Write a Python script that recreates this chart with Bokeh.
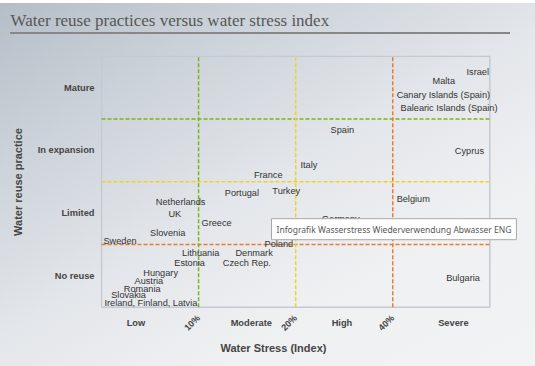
import math
from bokeh.plotting import figure
from bokeh.models import (Range1d, Label, ColumnDataSource, LinearAxis, Title,
                          FixedTicker, GlobalInlineStyleSheet)
from bokeh.core.properties import value
from bokeh.embed import file_html
from bokeh.resources import INLINE

# ---- data ----
countries = ["Israel", "Malta", "Canary Islands (Spain)", "Balearic Islands (Spain)",
             "Spain", "Cyprus", "Italy", "France", "Portugal", "Turkey", "Netherlands",
             "Belgium", "UK", "Greece", "Germany", "Slovenia", "Sweden", "Poland",
             "Lithuania", "Denmark", "Estonia", "Czech Rep.", "Hungary", "Austria",
             "Romania", "Slovakia", "Ireland, Finland, Latvia", "Bulgaria"]
stress = [3.76, 3.41, 3.04, 3.08, 2.36, 3.64, 2.05, 1.57, 1.27, 1.76, 0.56,
          3.04, 0.69, 1.03, 2.27, 0.50, 0.02, 1.68, 0.83, 1.38, 0.75, 1.25,
          0.43, 0.34, 0.23, 0.10, 0.03, 3.55]
reuse = [3.75, 3.60, 3.38, 3.17, 2.83, 2.49, 2.27, 2.10, 1.82, 1.85, 1.67,
         1.72, 1.48, 1.34, 1.41, 1.18, 1.06, 1.01, 0.87, 0.87, 0.70, 0.70,
         0.55, 0.41, 0.29, 0.19, 0.06, 0.47]

stress_thresholds = [1, 2, 3]
stress_threshold_labels = ["10%", "20%", "40%"]
stress_class_pos = [0.355, 1.543, 2.477, 3.625]
stress_class_labels = ["Low", "Moderate", "High", "Severe"]
reuse_thresholds = [3, 2, 1]
reuse_class_pos = [0.5, 1.5, 2.5, 3.5]
reuse_class_labels = ["No reuse", "Limited", "In expansion", "Mature"]
threshold_colors = ["#7fb31a", "#f2d22a", "#ef7a2c"]
x_min, x_max = 0, 4
y_min, y_max = 0, 4

css = """
html { min-height: 100%;
  background:
    linear-gradient(#ffffff, #ffffff) no-repeat 0 0 / 100% 3px,
    linear-gradient(#878787, #878787) no-repeat 10px 32px / 500px 2px,
    linear-gradient(150deg, #b4bdc7 0%, #cdd3da 25%, #e3e6ea 50%, #eff0f2 72%, #f2f3f5 100%) fixed; }
body { background: transparent; }
"""

p = figure(width=535, height=366, output_backend="svg", toolbar_location=None,
           x_range=Range1d(-0.0103, 4.419), y_range=Range1d(-0.0207, 4.011),
           min_border_left=100, min_border_right=5, min_border_top=55, min_border_bottom=58)
p.stylesheets = [GlobalInlineStyleSheet(css=css)]
p.border_fill_color = None
p.background_fill_color = None
p.outline_line_color = None
p.grid.visible = False
p.title.text = ""

# title (spacer keeps the title near the top edge)
p.add_layout(Title(text=" ", text_font_size="1px", standoff=13), "above")
p.add_layout(Title(text="Water reuse practices versus water stress index", align="left",
                   vertical_align="top", offset=-90, standoff=16,
                   text_font="Liberation Serif", text_font_size="17px", text_font_style="normal",
                   text_color="#575757"), "above")

# axes
p.xaxis.ticker = FixedTicker(ticks=stress_class_pos)
p.xaxis.major_label_overrides = {v: l for v, l in zip(stress_class_pos, stress_class_labels)}
p.yaxis.ticker = FixedTicker(ticks=reuse_class_pos)
p.yaxis.major_label_overrides = {v: l for v, l in zip(reuse_class_pos, reuse_class_labels)}

pct_axis = LinearAxis(ticker=FixedTicker(ticks=stress_thresholds),
                      major_label_overrides={v: l for v, l in zip(stress_thresholds, stress_threshold_labels)},
                      major_label_orientation=math.pi / 4)
p.add_layout(pct_axis, "below")

for ax in (p.xaxis[0], p.yaxis[0], pct_axis):
    ax.axis_line_color = None
    ax.major_tick_line_color = None
    ax.minor_tick_line_color = None
    ax.major_tick_out = 0
    ax.major_tick_in = 0
    ax.minor_tick_out = 0
    ax.minor_tick_in = 0
    ax.major_label_text_font = "Liberation Sans"
    ax.major_label_text_font_style = "bold"
    ax.major_label_text_font_size = "9.3px"
    ax.major_label_text_color = "#454545"
p.xaxis[0].major_label_standoff = 9
pct_axis.major_label_standoff = -14
pct_axis.major_label_text_font_size = "9px"
p.yaxis.major_label_standoff = 6
p.yaxis.axis_label = "Water reuse practice"
p.yaxis.axis_label_text_font = "Liberation Sans"
p.yaxis.axis_label_text_font_style = "bold"
p.yaxis.axis_label_text_font_size = "11px"
p.yaxis.axis_label_text_color = "#454545"
p.yaxis.axis_label_standoff = 11

# x axis title
p.add_layout(Title(text="Water Stress (Index)", align="left", offset=120, standoff=0,
                   text_font="Liberation Sans", text_font_style="bold", text_font_size="11px",
                   text_color="#454545"), "below")

# plot box
p.quad(left=[x_min], right=[x_max], bottom=[y_min], top=[y_max],
       fill_color=None, line_color="#c3cad3", line_width=1.5)

# threshold lines
p.segment(x0=[x_min] * 3, x1=[x_max] * 3, y0=reuse_thresholds, y1=reuse_thresholds,
          line_color=threshold_colors, line_width=1.5, line_dash="4 2")
p.segment(x0=stress_thresholds, x1=stress_thresholds, y0=[y_min] * 3, y1=[y_max] * 3,
          line_color=threshold_colors, line_width=1.5, line_dash="4 2")

# country labels
src = ColumnDataSource(dict(x=stress, y=reuse, t=countries))
p.text(x="x", y="y", text="t", source=src, text_font=value("Liberation Sans"),
       text_font_size="9.2px", text_color="#333333", text_align="left", text_baseline="middle")

# tooltip overlay seen in the reference
p.add_layout(Label(x=171, y=79.3, x_units="screen", y_units="screen",
                   text="Infografik Wasserstress Wiederverwendung Abwasser ENG",
                   text_font="Noto Sans", text_font_size="8.5px", text_color="#575757",
                   text_align="left", text_baseline="middle", padding=5,
                   background_fill_color="white", border_line_color="#a8a8a8", border_line_width=1))

open("out.html", "w").write(file_html(p, INLINE))
